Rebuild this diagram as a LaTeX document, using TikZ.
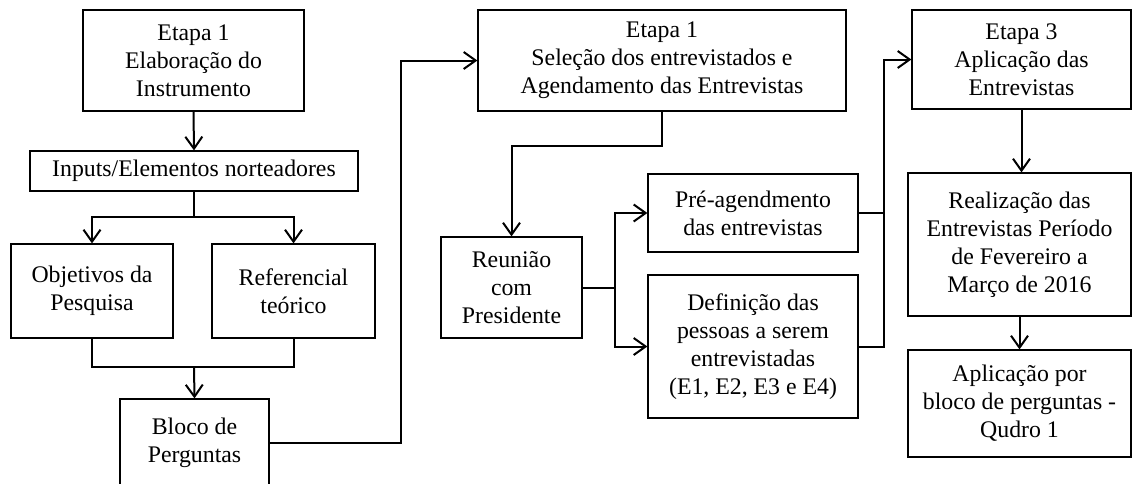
\documentclass[tikz,border=0pt]{standalone}
\usepackage{fontspec}
\setmainfont{Liberation Serif}
\usetikzlibrary{arrows.meta}
\begin{document}
\begin{tikzpicture}[x=1pt,y=-1pt,
  box/.style={draw, line width=1.2pt, inner sep=0pt, align=center,
    font=\fontsize{23.8}{28}\selectfont},
  conn/.style={line width=2pt},
  arr/.style={line width=2pt, -{Straight Barb[length=12pt,width=17pt]}}]
\useasboundingbox (0,0) rectangle (1132,483);
\clip (0,0) rectangle (1132,483);
\node[box, minimum width=221pt, minimum height=101pt] (A) at (193.5,60.5) {Etapa 1\\Elaboração do\\Instrumento};
\node[box, minimum width=328pt, minimum height=40pt] (I) at (194,171) {Inputs/Elementos norteadores};
\node[box, minimum width=162pt, minimum height=94pt] (O) at (92,291) {Objetivos da\\Pesquisa};
\node[box, minimum width=163pt, minimum height=94pt] (R) at (293.5,291) {Referencial\\teórico};
\node[box, minimum width=149pt, minimum height=88pt] (B) at (194.5,443) {Bloco de\\Perguntas};
\node[box, minimum width=368pt, minimum height=101pt] (S) at (662,60.5) {Etapa 1\\Seleção dos entrevistados e\\Agendamento das Entrevistas};
\node[box, minimum width=141pt, minimum height=101pt] (M) at (511.5,287.5) {Reunião\\com\\Presidente};
\node[box, minimum width=210pt, minimum height=78pt] (P) at (753,213) {Pré-agendmento\\das entrevistas};
\node[box, minimum width=210pt, minimum height=143pt] (D) at (753,346.5) {Definição das\\pessoas a serem\\entrevistadas\\(E1, E2, E3 e E4)};
\node[box, minimum width=219pt, minimum height=99pt] (E) at (1021.5,59.5) {Etapa 3\\Aplicação das\\Entrevistas};
\node[box, minimum width=223pt, minimum height=143pt] (L) at (1019.5,244.5) {Realização das\\Entrevistas Período\\de Fevereiro a\\Março de 2016};
\node[box, minimum width=223pt, minimum height=107pt] (Q) at (1019.5,403.5) {Aplicação por\\bloco de perguntas -\\Qudro 1};
\coordinate (j1) at (194,217);
\coordinate (j2) at (194,367);
\coordinate (j3) at (615,287.5);
\coordinate (j4) at (884,346.5);
% connectors
\draw[arr] (A.south) -- (I.north);
\draw[conn] (I.south) -- (j1);
\draw[arr] (j1) -| (O.north);
\draw[arr] (j1) -| (R.north);
\draw[conn] (O.south) |- (j2) -| (R.south);
\draw[arr] (j2) -- (B.north);
\draw[arr] (B.east) -- ++(131,0) |- (S.west);
\draw[arr] (S.south) -- ++(0,34.5) -| (M.north);
\draw[conn] (M.east) -- (j3);
\draw[arr] (j3) |- (P.west);
\draw[arr] (j3) |- (D.west);
\draw[conn] (P.east) -| (j4);
\draw[arr] (D.east) -- (j4) |- (E.west);
\draw[arr] (E.south) -- (E.south |- L.north);
\draw[arr] (L.south) -- (L.south |- Q.north);
\end{tikzpicture}
\end{document}
